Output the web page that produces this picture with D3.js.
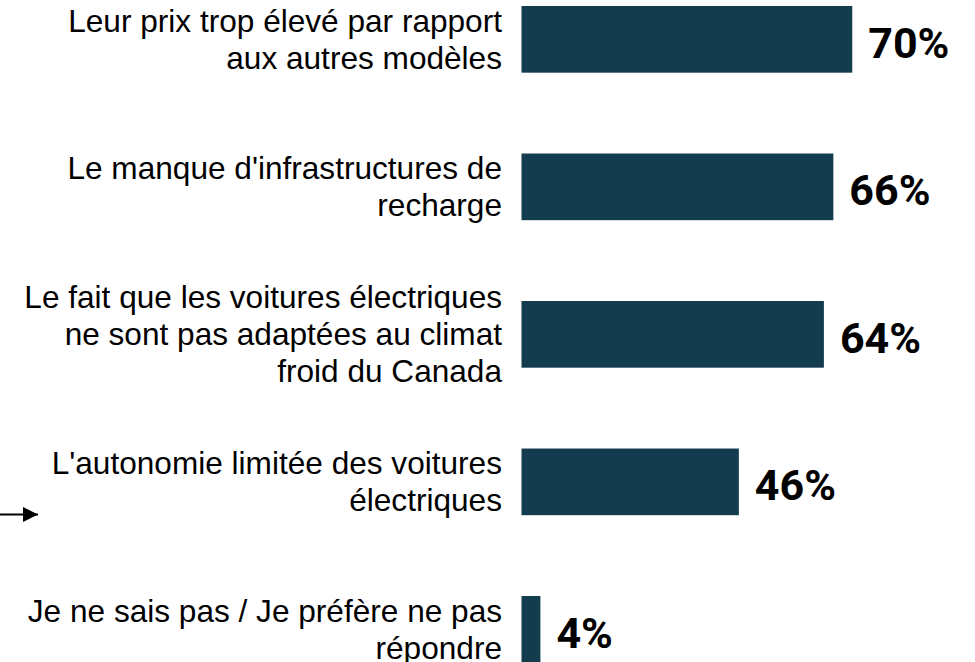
<!DOCTYPE html>
<html>
<head>
<meta charset="utf-8">
<script src="https://cdn.jsdelivr.net/npm/d3@7"></script>
<style>
  html, body { margin: 0; padding: 0; background: #fff; overflow: hidden; }
</style>
</head>
<body>
<div id="chart"></div>
<script>
// categories, one array of lines per label
var labels = [
  ["Leur prix trop élevé par rapport", "aux autres modèles"],
  ["Le manque d'infrastructures de", "recharge"],
  ["Le fait que les voitures électriques", "ne sont pas adaptées au climat", "froid du Canada"],
  ["L'autonomie limitée des voitures", "électriques"],
  ["Je ne sais pas / Je préfère ne pas", "répondre"]
];
var values = [70, 66, 64, 46, 4];

var w = 975;
var h = 662;
var barColor = "#133c4f";
var lineH = 37;

var svg = d3.select("#chart")
            .append("svg")
            .attr("width", w)
            .attr("height", h);

var idx = d3.range(values.length);

var x = d3.scaleLinear()
          .domain([0, 100])
          .range([521.5, 994]);

var y = d3.scaleBand()
          .domain(idx)
          .range([6, 662.7])
          .paddingInner(0.548)
          .paddingOuter(0);

// bars
svg.selectAll("rect.bar")
   .data(values)
   .enter()
   .append("rect")
   .attr("class", "bar")
   .attr("x", x(0))
   .attr("y", function(d, i) { return y(i); })
   .attr("width", function(d) { return x(d) - x(0); })
   .attr("height", y.bandwidth())
   .attr("fill", barColor);

// category labels
var lab = svg.selectAll("text.cat")
   .data(labels)
   .enter()
   .append("text")
   .attr("class", "cat")
   .attr("text-anchor", "end")
   .attr("font-family", "Liberation Sans, Arial, sans-serif")
   .attr("font-size", "31.6px")
   .attr("fill", "#000");

lab.each(function(lines, i) {
  var cy = y(i) + y.bandwidth() / 2;
  d3.select(this).selectAll("tspan")
    .data(lines)
    .enter()
    .append("tspan")
    .attr("x", 502)
    .attr("y", function(d, j) {
      return cy + (j - (lines.length - 1) / 2) * lineH + 11;
    })
    .text(function(d) { return d; });
});

// value labels
svg.selectAll("text.val")
   .data(values)
   .enter()
   .append("text")
   .attr("class", "val")
   .attr("x", function(d) { return x(d) + 16; })
   .attr("y", function(d, i) { return y(i) + y.bandwidth() / 2 + 18.5; })
   .attr("font-family", "Roboto, sans-serif")
   .attr("font-weight", 700)
   .attr("font-size", "43px")
   .attr("fill", "#000")
   .text(function(d) { return d + "%"; });

// arrow at left edge
var defs = svg.append("defs");
defs.append("marker")
    .attr("id", "arrowhead")
    .attr("viewBox", "0 0 10 10")
    .attr("refX", 10)
    .attr("refY", 5)
    .attr("markerUnits", "userSpaceOnUse")
    .attr("markerWidth", 16)
    .attr("markerHeight", 15)
    .attr("orient", "auto")
  .append("path")
    .attr("d", "M0,0 L10,5 L0,10 Z")
    .attr("fill", "#000");

svg.append("line")
   .attr("x1", 0)
   .attr("y1", 514.5)
   .attr("x2", 38)
   .attr("y2", 514.5)
   .attr("stroke", "#000")
   .attr("stroke-width", 2)
   .attr("marker-end", "url(#arrowhead)");
</script>
</body>
</html>
